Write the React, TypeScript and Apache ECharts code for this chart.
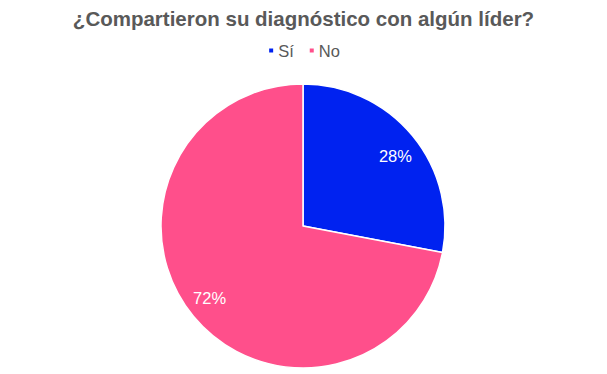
import React, { useEffect, useRef } from "react";
import * as echarts from "echarts";

const categories = ["Sí", "No"];
const values = [28, 72];
const colors = ["#0022F0", "#FF4F8B"];
const titleText = "¿Compartieron su diagnóstico con algún líder?";

export default function App() {
  const ref = useRef<HTMLDivElement>(null);
  useEffect(() => {
    if (!ref.current) return;
    const chart = echarts.init(ref.current, null, { renderer: "svg" });
    const data = categories.map((name, i) => ({
      name,
      value: values[i],
      itemStyle: { color: colors[i] },
    }));
    const labelOffsets = [
      [0, 6],
      [-1, -4],
    ];
    chart.setOption({
      animation: false,
      title: {
        text: titleText,
        left: "center",
        top: 3,
        textStyle: {
          fontFamily: "Liberation Sans, Arial, sans-serif",
          fontSize: 20.5,
          fontWeight: "bold",
          color: "#595959",
        },
      },
      legend: {
        data: categories,
        top: 37,
        left: "center",
        icon: "rect",
        itemWidth: 6,
        itemHeight: 6,
        itemGap: 14,
        textStyle: {
          fontFamily: "Liberation Sans, Arial, sans-serif",
          fontSize: 16.5,
          color: "#595959",
          padding: [0, 0, 0, -1],
        },
      },
      series: [
        {
          type: "pie",
          center: [303, 226],
          radius: [0, 142],
          startAngle: 90,
          clockwise: true,
          data,
          label: { show: false },
          labelLine: { show: false },
          itemStyle: { borderColor: "#ffffff", borderWidth: 1.5 },
          emphasis: { disabled: true },
        },
        {
          type: "pie",
          center: [303, 226],
          radius: [90, 144],
          startAngle: 90,
          clockwise: true,
          silent: true,
          data: categories.map((name, i) => ({
            name,
            value: values[i],
            label: { offset: labelOffsets[i] },
          })),
          itemStyle: { color: "rgba(0,0,0,0)" },
          label: {
            show: true,
            position: "inside",
            formatter: "{d}%",
            color: "#ffffff",
            fontFamily: "Liberation Sans, Arial, sans-serif",
            fontSize: 16.5,
          },
          labelLine: { show: false },
          emphasis: { disabled: true },
        },
      ],
    });
    return () => chart.dispose();
  }, []);
  return (
    <div
      ref={ref}
      style={{ position: "fixed", left: 0, top: 0, width: 607, height: 374, background: "#fff" }}
    />
  );
}
